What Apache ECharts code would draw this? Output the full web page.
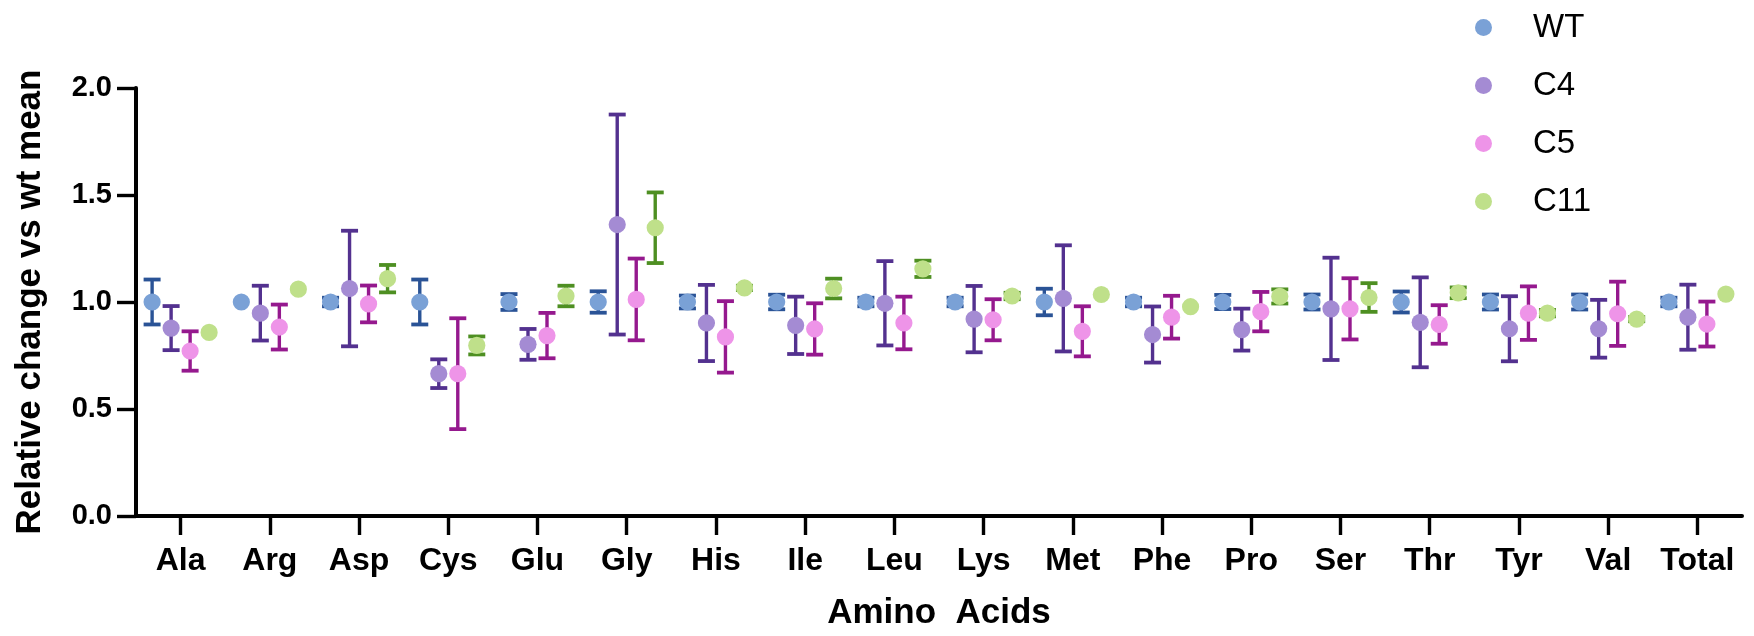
<!DOCTYPE html>
<html>
<head>
<meta charset="utf-8">
<script src="https://cdn.jsdelivr.net/npm/echarts@6/dist/echarts.min.js"></script>
<style>
  html, body { margin: 0; padding: 0; background: #ffffff; }
  #chart { width: 1754px; height: 636px; }
</style>
</head>
<body>
<div id="chart"></div>
<script>
// Amino acid categories on the x axis
const categories = ['Ala', 'Arg', 'Asp', 'Cys', 'Glu', 'Gly', 'His', 'Ile', 'Leu',
  'Lys', 'Met', 'Phe', 'Pro', 'Ser', 'Thr', 'Tyr', 'Val', 'Total'];

// y-axis tick values
const yTicks = [0, 0.5, 1.0, 1.5, 2.0];

// Group names (legend order)
const groups = ['WT', 'C4', 'C5', 'C11'];

// Means and error half-widths, relative to the wild-type mean
const wtMean = [1.0, 1.0, 1.0, 1.0, 1.0, 1.0, 1.0, 1.0, 1.0, 1.0, 1.0, 1.0, 1.0, 1.0, 1.0, 1.0, 1.0, 1.0];
const wtErr = [0.105, 0, 0.02, 0.105, 0.037, 0.05, 0.03, 0.034, 0.02, 0.02, 0.062, 0.02, 0.033, 0.035, 0.049, 0.035, 0.035, 0.02];

const c4Mean = [0.878, 0.948, 1.063, 0.665, 0.802, 1.362, 0.902, 0.891, 0.994, 0.920, 1.017, 0.848, 0.871, 0.968, 0.905, 0.875, 0.875, 0.929];
const c4Err = [0.103, 0.128, 0.270, 0.067, 0.072, 0.514, 0.178, 0.134, 0.197, 0.155, 0.248, 0.131, 0.098, 0.239, 0.210, 0.152, 0.135, 0.152];

const c5Mean = [0.771, 0.883, 0.991, 0.665, 0.843, 1.012, 0.837, 0.874, 0.902, 0.917, 0.863, 0.929, 0.955, 0.968, 0.895, 0.948, 0.945, 0.897];
const c5Err = [0.092, 0.105, 0.086, 0.259, 0.106, 0.191, 0.167, 0.120, 0.123, 0.096, 0.117, 0.100, 0.092, 0.143, 0.090, 0.125, 0.150, 0.105];

const c11Mean = [0.858, 1.060, 1.109, 0.797, 1.028, 1.347, 1.066, 1.063, 1.155, 1.028, 1.035, 0.978, 1.026, 1.021, 1.043, 0.948, 0.920, 1.037];
const c11Err = [0, 0, 0.064, 0.042, 0.048, 0.165, 0.01, 0.046, 0.038, 0.015, 0, 0, 0.033, 0.067, 0.025, 0.015, 0.01, 0];

const means = [wtMean, c4Mean, c5Mean, c11Mean];
const errs = [wtErr, c4Err, c5Err, c11Err];

// Marker fill colours and error-bar colours per group
const dotColors = ['#7aa1d6', '#a48bd3', '#ee94e8', '#bfe08a'];
const barColors = ['#2a5396', '#53318f', '#95198e', '#4e8f22'];

const FONT = '"Liberation Sans", Arial, Helvetica, sans-serif';

// Draws one group's mean marker with its error bar, offset within the category band
function makeRender(slot, barColor, dotColor) {
  return function (params, api) {
    const cat = api.value(0);
    const mean = api.value(1);
    const lo = api.value(2);
    const hi = api.value(3);
    const band = api.size([1, 0])[0];
    const dx = (slot - 1.5) * band * 0.213;
    const c = api.coord([cat, mean]);
    const x = c[0] + dx;
    const yLo = api.coord([cat, lo])[1];
    const yHi = api.coord([cat, hi])[1];
    const capHalf = 8.5;
    const children = [];
    if (hi > lo) {
      children.push({ type: 'line', shape: { x1: x, y1: yHi, x2: x, y2: yLo }, style: { stroke: barColor, lineWidth: 3.4 } });
      children.push({ type: 'line', shape: { x1: x - capHalf, y1: yHi, x2: x + capHalf, y2: yHi }, style: { stroke: barColor, lineWidth: 3.8 } });
      children.push({ type: 'line', shape: { x1: x - capHalf, y1: yLo, x2: x + capHalf, y2: yLo }, style: { stroke: barColor, lineWidth: 3.8 } });
    }
    children.push({ type: 'circle', shape: { cx: x, cy: c[1], r: 8.6 }, style: { fill: dotColor } });
    return { type: 'group', children: children };
  };
}

const series = groups.map(function (name, g) {
  return {
    name: name,
    type: 'custom',
    itemStyle: { color: dotColors[g] },
    encode: { x: 0, y: [1, 2, 3] },
    data: categories.map(function (_, i) {
      return [i, means[g][i], means[g][i] - errs[g][i], means[g][i] + errs[g][i]];
    }),
    renderItem: makeRender(g, barColors[g], dotColors[g])
  };
});

const chart = echarts.init(document.getElementById('chart'), null, { renderer: 'canvas' });
chart.setOption({
  animation: false,
  backgroundColor: '#ffffff',
  grid: { left: 136, right: 12, top: 88, bottom: 114, containLabel: false },
  legend: {
    data: groups.map(function (n) { return { name: n, icon: 'circle' }; }),
    orient: 'vertical',
    left: 1475,
    top: 11,
    padding: 0,
    itemWidth: 17,
    itemHeight: 17,
    itemGap: 25,
    selectedMode: false,
    textStyle: {
      fontFamily: FONT,
      fontSize: 33,
      lineHeight: 33,
      color: '#000000',
      padding: [0, 0, 0, 36]
    }
  },
  xAxis: {
    type: 'category',
    data: categories,
    boundaryGap: true,
    name: 'Amino  Acids',
    nameLocation: 'middle',
    nameGap: 80,
    nameTextStyle: { fontFamily: FONT, fontSize: 35, lineHeight: 35, fontWeight: 'bold', color: '#000000' },
    axisLine: { show: true, lineStyle: { color: '#000000', width: 4 } },
    axisTick: { show: true, alignWithLabel: true, length: 19, lineStyle: { color: '#000000', width: 3.4 } },
    axisLabel: { fontFamily: FONT, fontSize: 32, lineHeight: 32, fontWeight: 'bold', color: '#000000', margin: 29, interval: 0 },
    splitLine: { show: false }
  },
  yAxis: {
    type: 'value',
    min: yTicks[0],
    max: yTicks[yTicks.length - 1],
    interval: 0.5,
    name: 'Relative change vs wt mean',
    nameLocation: 'middle',
    nameGap: 88,
    nameRotate: 90,
    nameTextStyle: { fontFamily: FONT, fontSize: 35, lineHeight: 35, fontWeight: 'bold', color: '#000000' },
    axisLine: { show: true, lineStyle: { color: '#000000', width: 4 } },
    axisTick: { show: true, length: 19, lineStyle: { color: '#000000', width: 3.4 } },
    axisLabel: {
      fontFamily: FONT, fontSize: 29, fontWeight: 'bold', color: '#000000', margin: 24,
      formatter: function (v) { return v.toFixed(1); }
    },
    splitLine: { show: false }
  },
  series: series
});
</script>
</body>
</html>
